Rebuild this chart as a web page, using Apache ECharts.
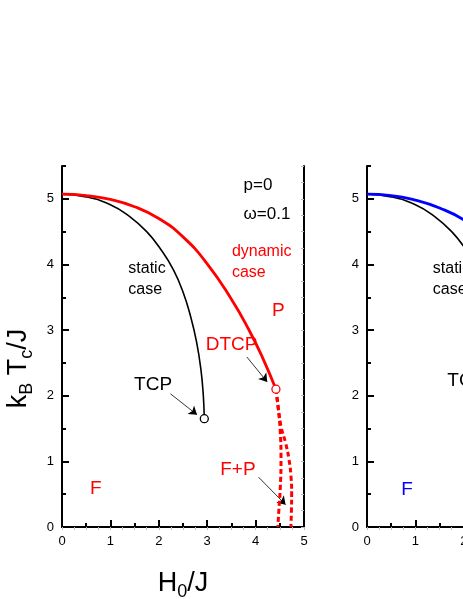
<!DOCTYPE html>
<html>
<head>
<meta charset="utf-8">
<script src="https://cdn.jsdelivr.net/npm/echarts@6/dist/echarts.min.js"></script>
<style>
  html, body { margin: 0; padding: 0; background: #fff; }
  #chart { width: 463px; height: 599px; }
</style>
</head>
<body>
<div id="chart"></div>
<script>
// 静态情况的相界线 (H0/J, kBTc/J)
const staticLine = [[0, 5.07], [0.5, 5.03], [1.0, 4.91], [1.4, 4.73], [1.75, 4.5], [2.05, 4.22], [2.3, 3.92],
  [2.5, 3.58], [2.66, 3.2], [2.78, 2.82], [2.87, 2.4], [2.92, 2.0], [2.94, 1.65]];
// 动态情况 (ω=0.1) 的二级相变线
const dynamicLine = [[0, 5.07], [0.5, 5.05], [1.0, 4.99], [1.5, 4.88], [2.0, 4.7], [2.5, 4.42],
  [3.0, 4.01], [3.5, 3.47], [3.85, 3.02], [4.15, 2.57], [4.42, 2.1]];
// 一级相变的两条虚线
const dashLeft = [[4.42, 2.1], [4.47, 1.8], [4.51, 1.45], [4.525, 1.05], [4.51, 0.6], [4.48, 0.25], [4.46, 0]];
const dashRight = [[4.42, 2.1], [4.47, 1.8], [4.53, 1.52], [4.62, 1.28], [4.69, 1.03], [4.73, 0.78],
  [4.745, 0.5], [4.74, 0.25], [4.73, 0]];
// 右图的蓝线
const blueLine = [[0, 5.07], [0.5, 5.05], [1.0, 4.98], [1.5, 4.86], [2.0, 4.68], [2.5, 4.4], [3.0, 4.0]];
const tcp = [2.94, 1.65];
const dtcp = [4.42, 2.1];

// 标注文字 [x, y, 文字]
const blackNotes = [[1.37, 3.77, 'static\ncase'], [1.49, 2.17, 'TCP'], [3.75, 5.2, 'p=0'], [3.75, 4.77, 'ω=0.1']];
const redNotes = [[3.51, 4.04, 'dynamic\ncase'], [2.97, 2.77, 'DTCP'], [4.34, 3.3, 'P'], [3.27, 0.87, 'F+P'], [0.58, 0.58, 'F']];
const rightBlackNotes = [[1.36, 3.77, 'static\ncase'], [1.66, 2.23, 'TCP']];
const rightBlueNotes = [[0.71, 0.57, 'F']];
// 箭头
const arrows = [[[2.24, 2.03], [2.79, 1.71]], [[3.82, 2.59], [4.24, 2.21]], [[4.06, 0.76], [4.62, 0.34]]];

const FONT = "'Liberation Sans', Arial, sans-serif";
const chart = echarts.init(document.getElementById('chart'));

function bottomAxis(grid, withName) {
  return {
    gridIndex: grid, type: 'value', min: 0, max: 5, interval: 1,
    axisLine: { lineStyle: { color: '#000', width: 2 } },
    axisTick: { inside: true, length: 7, lineStyle: { color: '#000', width: 2 } },
    minorTick: { show: true, splitNumber: 2, length: 4, lineStyle: { color: '#000', width: 2 } },
    axisLabel: { color: '#000', fontSize: 13, fontFamily: FONT, margin: 8 },
    splitLine: { show: false },
    name: withName ? '{a|H}{s|0}{a|/J}' : '',
    nameLocation: 'middle', nameGap: 40,
    nameTextStyle: {
      fontFamily: FONT,
      rich: {
        a: { fontSize: 27, fontFamily: FONT, color: '#000' },
        s: { fontSize: 18, fontFamily: FONT, color: '#000', padding: [16, 0, 0, 0] }
      }
    }
  };
}
function topAxis(grid) {
  return {
    gridIndex: grid, type: 'value', position: 'top', min: 0, max: 5, interval: 0.25,
    axisLine: { lineStyle: { color: '#000', width: 2 } },
    axisTick: { inside: true, length: 3, lineStyle: { color: '#bbb', width: 1 } },
    axisLabel: { show: false }, splitLine: { show: false }
  };
}
function leftAxis(grid, withName) {
  return {
    gridIndex: grid, type: 'value', min: 0, max: 5.5, interval: 1,
    axisLine: { lineStyle: { color: '#000', width: 2 } },
    axisTick: { inside: true, length: 7, lineStyle: { color: '#000', width: 2 } },
    axisLabel: { color: '#000', fontSize: 13, fontFamily: FONT, margin: 8, showMaxLabel: false },
    splitLine: { show: false },
    name: withName ? '{a|k}{s|B}{a| T}{s|c}{a|/J}' : '',
    nameLocation: 'middle', nameGap: 26, nameRotate: 90,
    nameTextStyle: {
      fontFamily: FONT,
      padding: [0, 44, 0, 0],
      rich: {
        a: { fontSize: 27, fontFamily: FONT, color: '#000' },
        s: { fontSize: 18, fontFamily: FONT, color: '#000', padding: [16, 0, 0, 0] }
      }
    }
  };
}
function minorLeft(grid) {
  return {
    gridIndex: grid, type: 'value', position: 'left', min: 0, max: 5.5, interval: 0.5,
    axisLine: { show: false },
    axisTick: { inside: true, length: 4, lineStyle: { color: '#000', width: 2 } },
    axisLabel: { show: false }, splitLine: { show: false }
  };
}
function rightAxis(grid) {
  return {
    gridIndex: grid, type: 'value', position: 'right', min: 0, max: 5.5, interval: 0.25,
    axisLine: { lineStyle: { color: '#000', width: 2 } },
    axisTick: { inside: true, length: 3, lineStyle: { color: '#bbb', width: 1 } },
    axisLabel: { show: false }, splitLine: { show: false }
  };
}

function curve(data, xi, yi, color, width, dashed) {
  return {
    type: 'line', xAxisIndex: xi, yAxisIndex: yi, data: data, smooth: 0.5,
    showSymbol: false, silent: true, animation: false,
    lineStyle: { color: color, width: width, type: dashed ? [5, 3] : 'solid' }
  };
}
function notes(list, xi, yi, color, size) {
  return {
    type: 'scatter', xAxisIndex: xi, yAxisIndex: yi, symbolSize: 0, silent: true, animation: false,
    data: list.map(n => ({ value: [n[0], n[1]], name: n[2] })),
    label: {
      show: true, position: 'right', distance: 0, formatter: p => p.name,
      color: color, fontSize: size, fontFamily: FONT, lineHeight: 21, align: 'left', opacity: 1
    }
  };
}

chart.setOption({
  animation: false,
  grid: [
    { left: 62, top: 166, width: 242, height: 361, outerBoundsMode: 'none', containLabel: false },
    { left: 367, top: 166, width: 242, height: 361, outerBoundsMode: 'none', containLabel: false }
  ],
  xAxis: [bottomAxis(0, true), topAxis(0), bottomAxis(1, false), topAxis(1)],
  yAxis: [leftAxis(0, true), minorLeft(0), rightAxis(0), leftAxis(1, false), minorLeft(1), rightAxis(1)],
  series: [
    curve(staticLine, 0, 0, '#000', 1.6, false),
    curve(dynamicLine, 0, 0, '#ff0000', 2.8, false),
    curve(dashLeft, 0, 0, '#ff0000', 3, true),
    curve(dashRight, 0, 0, '#ff0000', 3, true),
    {
      type: 'scatter', xAxisIndex: 0, yAxisIndex: 0, symbol: 'circle', symbolSize: 8, silent: true,
      data: [{ value: tcp, itemStyle: { borderColor: '#000' } }, { value: dtcp, itemStyle: { borderColor: '#ff0000' } }],
      itemStyle: { color: '#fff', borderWidth: 1.3, opacity: 1 }, z: 5
    },
    {
      type: 'lines', coordinateSystem: 'cartesian2d', xAxisIndex: 0, yAxisIndex: 0, silent: true,
      symbol: ['none', 'arrow'], symbolSize: 8,
      lineStyle: { color: '#000', width: 0.8, opacity: 1 },
      data: arrows.map(a => ({ coords: a }))
    },
    notes(blackNotes.slice(0, 1), 0, 0, '#000', 16),
    notes(blackNotes.slice(1, 2), 0, 0, '#000', 19),
    notes(blackNotes.slice(2), 0, 0, '#000', 17),
    notes(redNotes.slice(0, 1), 0, 0, '#ff0000', 16),
    notes(redNotes.slice(1), 0, 0, '#ff0000', 19),
    curve(staticLine, 2, 3, '#000', 1.6, false),
    curve(blueLine, 2, 3, '#0000ff', 2.8, false),
    notes(rightBlackNotes.slice(0, 1), 2, 3, '#000', 16),
    notes(rightBlackNotes.slice(1), 2, 3, '#000', 19),
    notes(rightBlueNotes, 2, 3, '#0000ff', 19)
  ]
});
</script>
</body>
</html>
